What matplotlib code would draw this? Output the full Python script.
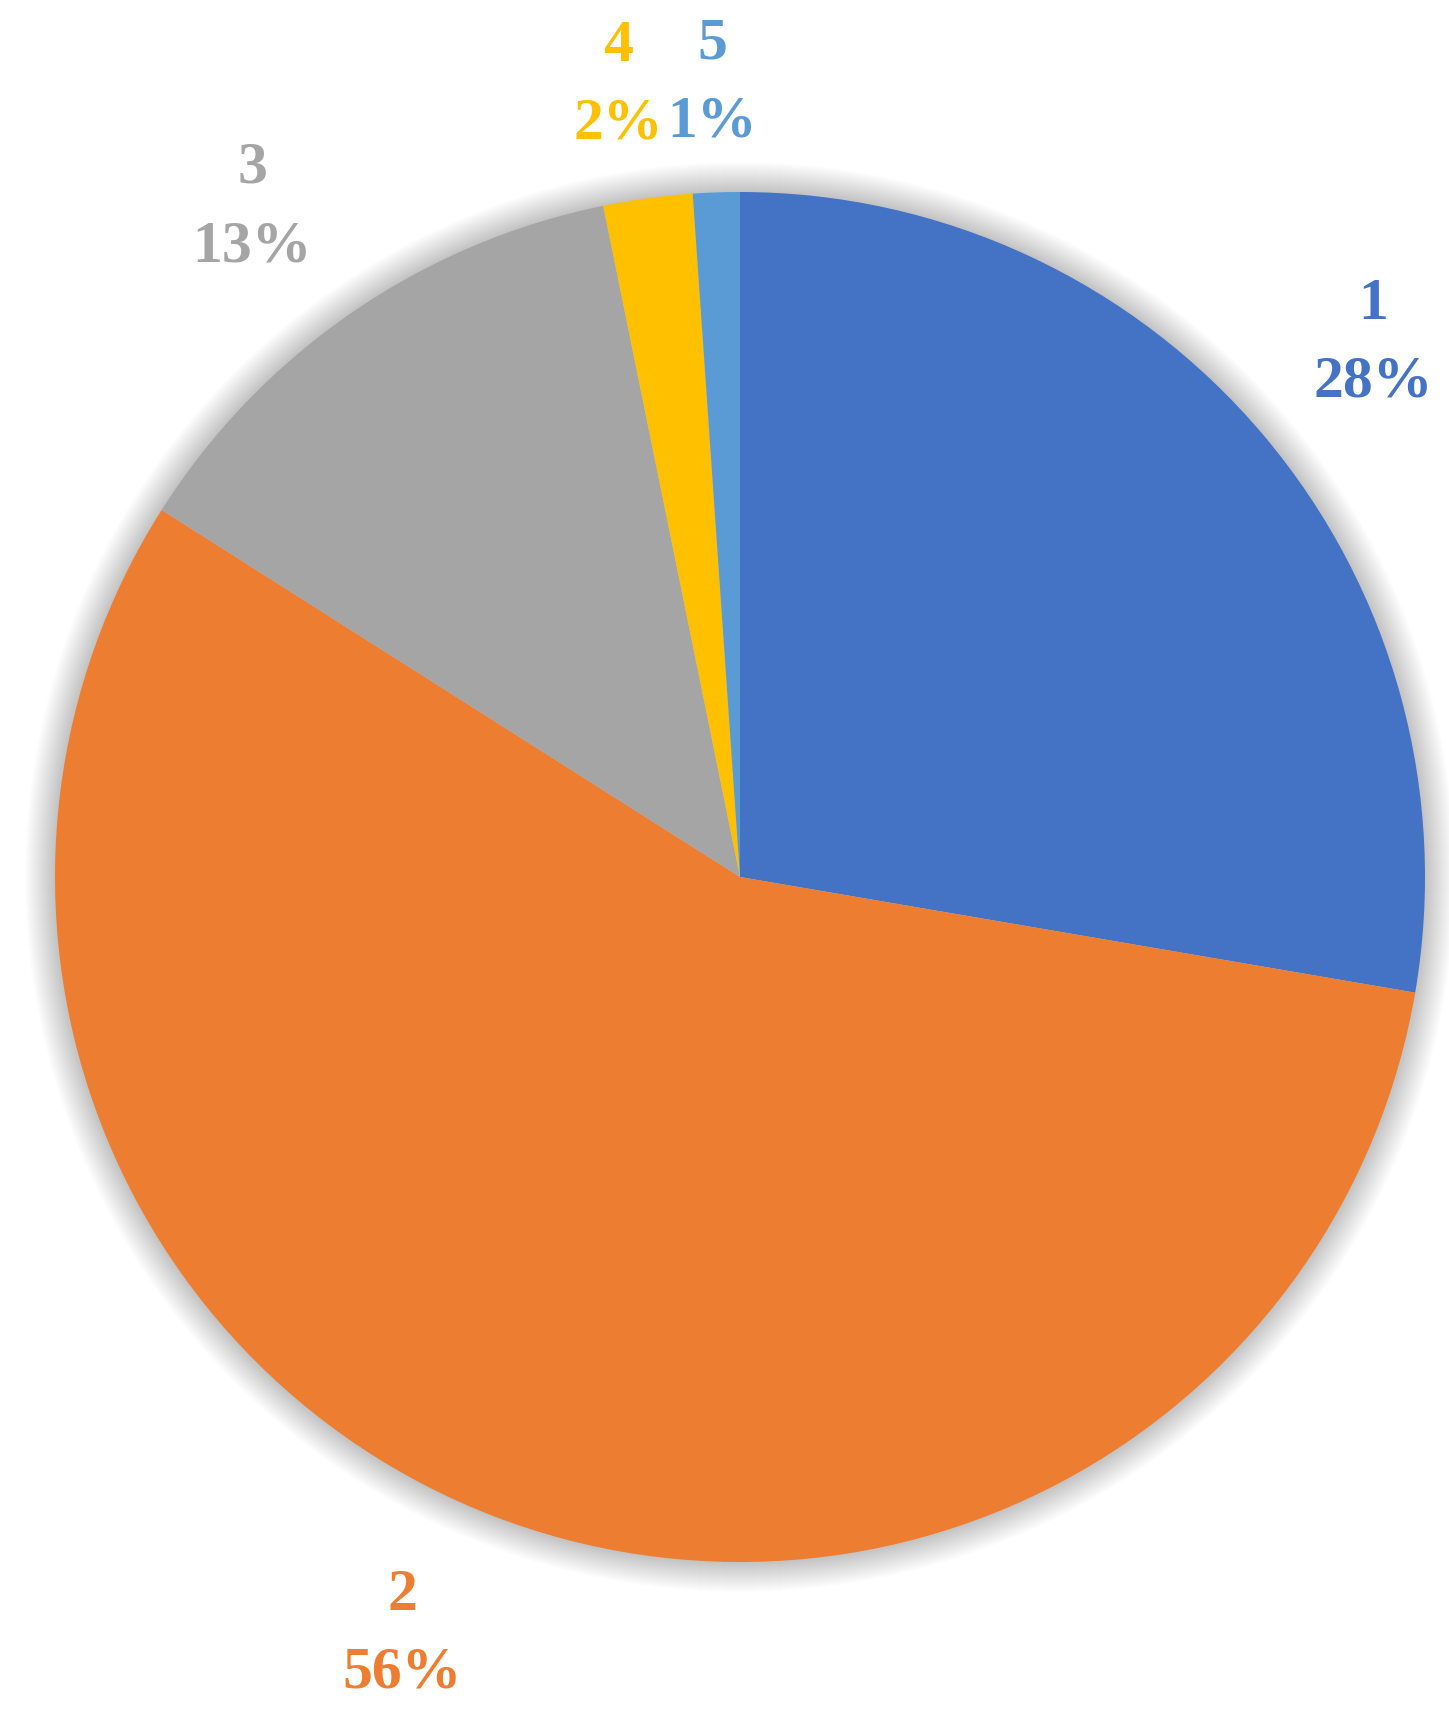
import numpy as np
import matplotlib
matplotlib.use('Agg')
import matplotlib.pyplot as plt
from matplotlib.patches import Circle

CATEGORIES = ['1', '2', '3', '4', '5']
SHARES = [27.7, 56.3, 12.8, 2.1, 1.1]
COLORS = ['#4472C4', '#ED7D31', '#A5A5A5', '#FFC000', '#5B9BD5']

W, H = 1449, 1715
CX, CY, R = 740, 878, 685   # pie centre / radius in pixels

# label placement tweaks (distance in radii, angle nudge in degrees, clockwise)
LABEL_DIST = [1.21, 1.21, 1.21, 1.17, 1.16]
LABEL_NUDGE = [0, 3, -1.5, -1, 0]


def main():
    fig = plt.figure(figsize=(W / 100, H / 100), dpi=100)
    ax = fig.add_axes([0, 0, 1, 1])
    ax.set_aspect('equal')
    ax.axis('off')

    # soft glow shadow around the pie
    for k in range(30):
        ax.add_patch(Circle((0, 0), 1 + (k + 1) / R,
                            color='black', alpha=0.006, lw=0, zorder=0))

    wedges, _ = ax.pie(SHARES, colors=COLORS, startangle=90,
                       counterclock=False, radius=1,
                       wedgeprops=dict(linewidth=0, zorder=2))

    total = sum(SHARES)
    start = 0.0
    for cat, s, col, d, nudge in zip(CATEGORIES, SHARES, COLORS,
                                     LABEL_DIST, LABEL_NUDGE):
        mid = np.radians((start + s / 2) / total * 360 + nudge)
        start += s
        ax.text(d * np.sin(mid), d * np.cos(mid), f'{cat}\n{round(s)}%',
                ha='center', va='center', color=col, fontsize=43,
                fontweight='bold', family='Liberation Serif',
                linespacing=1.59, zorder=3)

    ax.set_xlim(-CX / R, (W - CX) / R)
    ax.set_ylim(-(H - CY) / R, CY / R)

    fig.savefig('out.png', dpi=100)


if __name__ == '__main__':
    main()
